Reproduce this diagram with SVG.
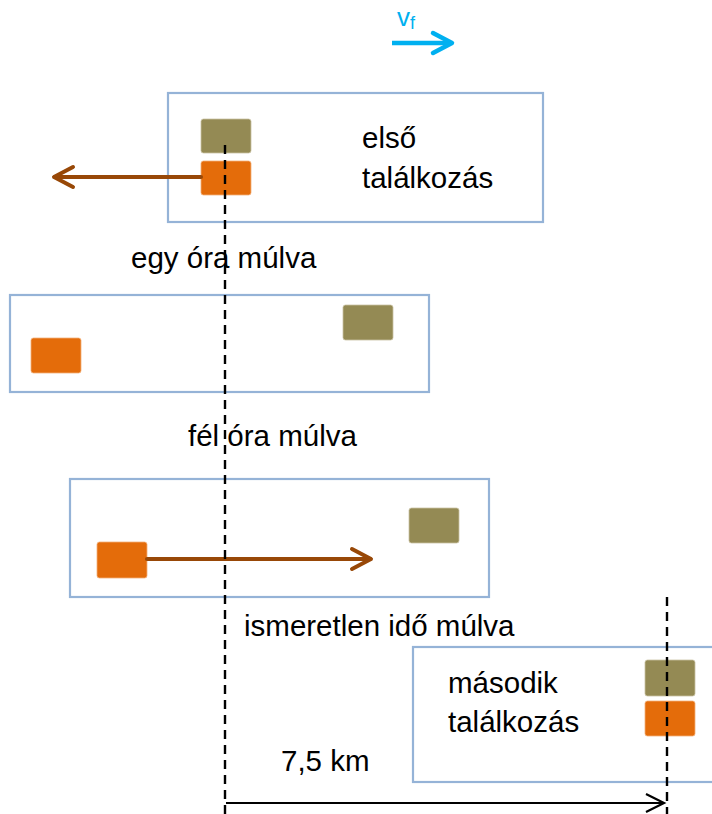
<svg xmlns="http://www.w3.org/2000/svg" width="712" height="814" viewBox="0 0 712 814">
<defs>
<style>
.frame{fill:#fff;stroke:#95B3D7;stroke-width:2.2}
.olive{fill:#948A54;stroke:#C9C2A3;stroke-width:0.8}
.orange{fill:#E46C0A;stroke:#F2B07A;stroke-width:0.8}
.t{font-family:"Liberation Sans",Arial,sans-serif;font-size:29.5px;fill:#000}
.brown{fill:none;stroke:#984807;stroke-width:4;stroke-linecap:round;stroke-linejoin:round}
.dash{fill:none;stroke:#000;stroke-width:2.4;stroke-dasharray:9,6}
</style>
</defs>
<rect width="712" height="814" fill="#fff"/>
<g id="velocity">
<path d="M392 43 H450" fill="none" stroke="#00B0F0" stroke-width="4.5"/>
<path d="M433 33 L452 43 L433 53" fill="none" stroke="#00B0F0" stroke-width="4.5" stroke-linecap="round" stroke-linejoin="round"/>
<text x="397" y="26" font-family="Liberation Sans,Arial,sans-serif" font-size="26" fill="#00B0F0">v<tspan font-size="18" dy="3">f</tspan></text>
</g>
<g id="scene1">
<rect class="frame" x="168" y="93" width="375" height="129"/>
<rect class="olive" x="201" y="119" width="50" height="34" rx="2.5"/>
<rect class="orange" x="201" y="161" width="50" height="34" rx="2.5"/>
<text class="t" x="362" y="148">első</text>
<text class="t" x="362" y="188">találkozás</text>
</g>
<g id="label1"><text class="t" x="131" y="268">egy óra múlva</text></g>
<g id="scene2">
<rect class="frame" x="10" y="295" width="419" height="97"/>
<rect class="orange" x="31" y="338" width="50" height="35" rx="2.5"/>
<rect class="olive" x="343" y="305" width="50" height="35" rx="2.5"/>
</g>
<g id="label2"><text class="t" x="188" y="446">fél óra múlva</text></g>
<g id="scene3">
<rect class="frame" x="70" y="479" width="419" height="118"/>
<rect class="orange" x="97" y="542" width="50" height="36" rx="2.5"/>
<rect class="olive" x="409" y="508" width="50" height="35" rx="2.5"/>
</g>
<g id="label3"><text class="t" x="244" y="636">ismeretlen idő múlva</text></g>
<g id="scene4">
<rect class="frame" x="413" y="647" width="310" height="135"/>
<rect class="olive" x="645" y="660" width="50" height="36" rx="2.5"/>
<rect class="orange" x="645" y="701" width="50" height="35" rx="2.5"/>
<text class="t" x="448" y="693">második</text>
<text class="t" x="448" y="732">találkozás</text>
</g>
<g id="distance"><text class="t" x="281" y="771">7,5 km</text></g>
<g id="connectors">
<path class="brown" d="M201 177 H55"/>
<path class="brown" d="M73 167 L54 177 L73 187"/>
<path class="brown" d="M147 559 H370"/>
<path class="brown" d="M352 549 L371 559 L352 569"/>
<path d="M226 803 H663" fill="none" stroke="#000" stroke-width="2.2"/>
<path d="M646 794 L664 803 L646 812" fill="none" stroke="#000" stroke-width="2.2"/>
<path class="dash" d="M225 145 V814"/>
<path class="dash" d="M667 597 V814"/>
</g>
</svg>
